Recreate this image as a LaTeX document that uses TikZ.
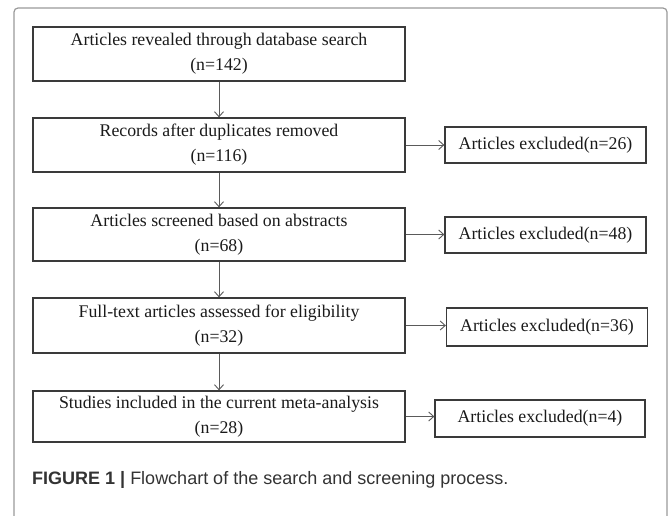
\documentclass[tikz,border=0pt]{standalone}
\usepackage{fontspec}
\setmainfont{Liberation Serif}
\newfontfamily\capfont{Liberation Sans}
\usetikzlibrary{arrows.meta}
\definecolor{boxline}{HTML}{3A3A3A}
\definecolor{arrowline}{HTML}{5A5A5A}
\definecolor{frameline}{HTML}{9A9A9A}
\definecolor{boxtext}{HTML}{1A1A1A}
\definecolor{captext}{HTML}{333333}
\begin{document}
\begin{tikzpicture}[x=1pt,y=1pt]
\tikzstyle{every node}+=[inner sep=0pt]
\tikzstyle{mainbox}=[draw=boxline, line width=1.3pt, minimum width=372pt, minimum height=54pt, align=center, text=boxtext, font=\fontsize{17.8}{25}\selectfont]
\tikzstyle{exbox}=[draw=boxline, line width=1.3pt, minimum width=201pt, minimum height=36pt, text=boxtext, font=\fontsize{17.8}{25}\selectfont]
\tikzstyle{flow}=[draw=arrowline, line width=0.9pt, -{Straight Barb[length=5pt,width=9pt]}]
\clip (0,0) rectangle (669,-515);
\draw [frameline, line width=1.2pt, rounded corners=4pt] (14,-8) rectangle (667,-540);
% main column
\node [mainbox] (search) at (219,-54) {Articles revealed through database search\\(n=142)};
\node [mainbox] (dedup) at (219,-145) {Records after duplicates removed\\(n=116)};
\node [mainbox, minimum height=53pt] (abstr) at (219,-234.5) {Articles screened based on abstracts\\(n=68)};
\node [mainbox, minimum height=55pt] (fulltext) at (219,-325.5) {Full-text articles assessed for eligibility\\(n=32)};
\node [mainbox, minimum height=51pt] (included) at (219,-416.5) {Studies included in the current meta-analysis\\(n=28)};
% excluded column
\node [exbox] (ex1) at (545.5,-145) {Articles excluded(n=26)};
\node [exbox] (ex2) at (545.5,-235) {Articles excluded(n=48)};
\node [exbox, minimum height=38pt] (ex3) at (547,-327) {Articles excluded(n=36)};
\node [exbox, minimum width=210pt, minimum height=37pt] (ex4) at (540,-418.5) {Articles excluded(n=4)};
\draw [flow] (search) -- (dedup);
\draw [flow] (dedup) -- (abstr);
\draw [flow] (abstr) -- (fulltext);
\draw [flow] (fulltext) -- (included);
\draw [flow] (dedup.east) -- (dedup.east -| ex1.west);
\draw [flow] (abstr.east) -- (abstr.east -| ex2.west);
\draw [flow] (fulltext.east) -- (fulltext.east -| ex3.west);
\draw [flow] (included.east) -- (included.east -| ex4.west);
\node [anchor=base west, text=captext, font=\capfont\fontsize{18}{22}\selectfont] (caption) at (32,-484) {\textbf{FIGURE 1 |} Flowchart of the search and screening process.};
\end{tikzpicture}
\end{document}
